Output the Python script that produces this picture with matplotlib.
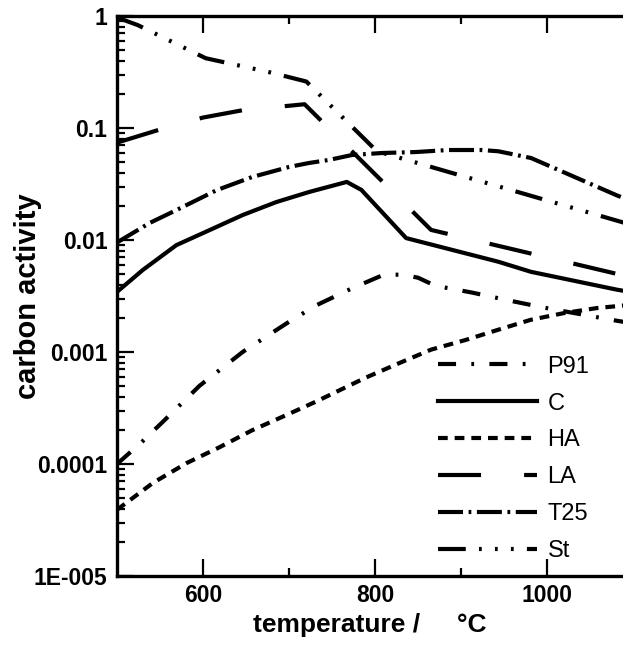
import numpy as np
import matplotlib
matplotlib.use('Agg')
import matplotlib.pyplot as plt
from matplotlib.ticker import FixedLocator, FixedFormatter, LogLocator, NullFormatter

# data (temperature in degC, carbon activity)
t_p91 = [500, 528, 552, 596, 646, 697, 731, 773, 810, 833, 850, 870, 912, 954, 995, 1081, 1100]
a_p91 = [0.0001, 0.000155, 0.000233, 0.0005, 0.001, 0.0018, 0.0026, 0.0037, 0.0049, 0.0049,
         0.0046, 0.0039, 0.0034, 0.0029, 0.0025, 0.0019, 0.0018]

t_c = [500, 530, 569, 608, 646, 685, 723, 767, 784, 836, 943, 981, 1081, 1100]
a_c = [0.00344, 0.0054, 0.009, 0.0123, 0.0167, 0.0218, 0.0268, 0.033, 0.028, 0.0104,
       0.0064, 0.0052, 0.0036, 0.0034]

t_ha = [500, 542, 581, 619, 657, 697, 731, 789, 827, 865, 905, 943, 981, 1020, 1058, 1100]
a_ha = [3.9e-5, 6.8e-5, 1.02e-4, 1.41e-4, 2.0e-4, 2.74e-4, 3.6e-4, 5.9e-4, 7.9e-4, 1.05e-3,
        1.28e-3, 1.58e-3, 1.94e-3, 2.23e-3, 2.47e-3, 2.65e-3]

t_la = [500, 550, 600, 650, 700, 718, 865, 1100]
a_la = [0.074, 0.097, 0.124, 0.146, 0.158, 0.163, 0.0123, 0.0046]

t_t25 = [500, 538, 569, 616, 657, 700, 723, 746, 773, 808, 847, 885, 923, 943, 981, 1020, 1081, 1100]
a_t25 = [0.0095, 0.0142, 0.0185, 0.0279, 0.0365, 0.0449, 0.0487, 0.0518, 0.0574, 0.0598,
         0.061, 0.0636, 0.0636, 0.062, 0.054, 0.040, 0.025, 0.022]

t_st = [500, 524, 603, 677, 720, 802, 1100]
a_st = [0.97, 0.83, 0.42, 0.315, 0.26, 0.062, 0.0135]

labels = ['P91', 'C', 'HA', 'LA', 'T25', 'St']
y_ticks = [1e-5, 1e-4, 1e-3, 1e-2, 1e-1, 1]
y_ticklabels = ['1E-005', '0.0001', '0.001', '0.01', '0.1', '1']

plt.rcParams['lines.scale_dashes'] = False
plt.rcParams['font.family'] = 'Liberation Sans'

fig = plt.figure(figsize=(6.23, 6.45), dpi=100)
ax = fig.add_axes([117/623, 69/645, 1 - 117/623, 560/645])

lw = 3.0
styles = [
    (0, (13, 11, 2, 11)),            # P91
    '-',                             # C
    (0, (7, 5)),                     # HA
    (0, (31, 31)),                   # LA
    (0, (18, 4, 2, 4)),              # T25
    (0, (20, 9.5, 2, 9.5, 2, 9.5, 2, 9.5)),  # St
]
series = [(t_p91, a_p91), (t_c, a_c), (t_ha, a_ha), (t_la, a_la), (t_t25, a_t25), (t_st, a_st)]
for (t, a), ls, lab in zip(series, styles, labels):
    ax.plot(t, a, color='black', lw=lw, linestyle=ls, label=lab)

ax.set_yscale('log')
ax.set_ylim(1e-5, 1)
ax.set_xlim(500, 1088)

ax.yaxis.set_major_locator(FixedLocator(y_ticks))
ax.yaxis.set_major_formatter(FixedFormatter(y_ticklabels))
ax.yaxis.set_minor_locator(LogLocator(base=10, subs=np.arange(2, 10)))
ax.yaxis.set_minor_formatter(NullFormatter())
ax.xaxis.set_major_locator(FixedLocator([600, 800, 1000]))
ax.xaxis.set_minor_locator(FixedLocator([700, 900]))

ax.tick_params(which='both', direction='in', top=True, right=False, width=1.6)
ax.tick_params(which='major', length=12, labelsize=16.5)
ax.tick_params(which='minor', length=6)
ax.tick_params(axis='y', which='major', pad=7)
ax.tick_params(axis='x', which='major', pad=6)
for lab in ax.get_xticklabels() + ax.get_yticklabels():
    lab.set_fontweight('bold')

for s in ['left', 'top', 'bottom']:
    ax.spines[s].set_linewidth(2.4)
ax.spines['right'].set_visible(False)

ax.set_xlabel('temperature /     \u00b0C', fontsize=19, fontweight='bold', labelpad=4)
ax.set_ylabel('carbon activity', fontsize=21, fontweight='bold')
ax.yaxis.set_label_coords(-0.148, 0.5)

leg = ax.legend(loc='lower left', bbox_to_anchor=(0.634, 0.025), frameon=False,
                prop={'family': ['Liberation Sans Narrow', 'Liberation Sans'], 'size': 17},
                handlelength=4.2, handletextpad=0.45, labelspacing=0.63,
                borderpad=0, borderaxespad=0)

plt.savefig('out.png', dpi=100)
